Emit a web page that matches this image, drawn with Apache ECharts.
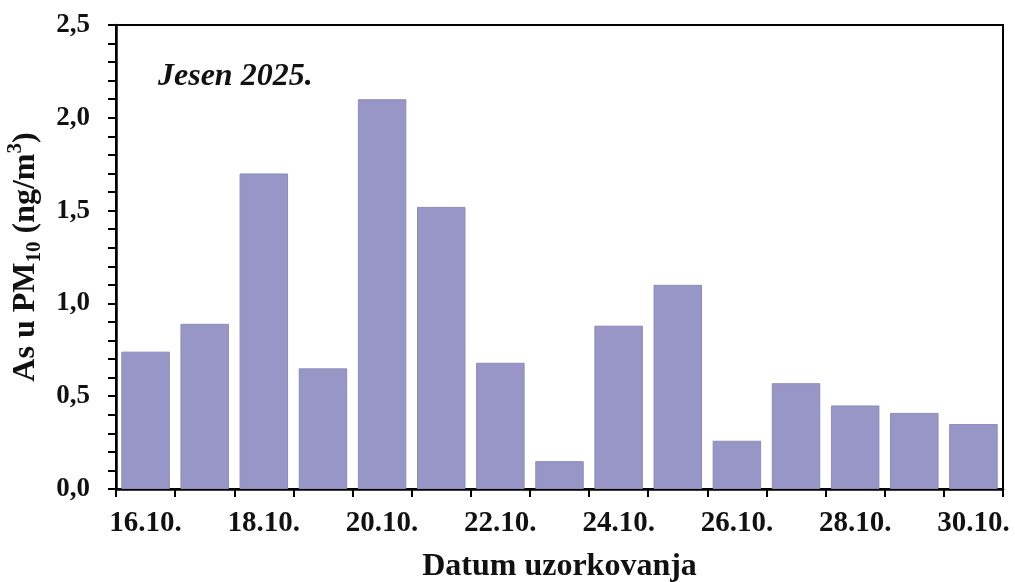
<!DOCTYPE html>
<html>
<head>
<meta charset="utf-8">
<script src="https://cdn.jsdelivr.net/npm/echarts@6/dist/echarts.min.js"></script>
<style>html,body{margin:0;padding:0;background:#fff}#c{width:1015px;height:582px}</style>
</head>
<body>
<div id="c"></div>
<script>
const categories = ['16.10.','17.10.','18.10.','19.10.','20.10.','21.10.','22.10.','23.10.','24.10.','25.10.','26.10.','27.10.','28.10.','29.10.','30.10.'];
const asValues = [0.74, 0.89, 1.70, 0.65, 2.10, 1.52, 0.68, 0.15, 0.88, 1.10, 0.26, 0.57, 0.45, 0.41, 0.35];
const yTicks = { min: 0, max: 2.5, interval: 0.5 };

const serif = '"Liberation Serif", "DejaVu Serif", serif';
const chart = echarts.init(document.getElementById('c'));
chart.setOption({
  animation: false,
  backgroundColor: '#fff',
  title: {
    text: 'Jesen 2025.',
    left: 153, top: 56,
    textStyle: { fontFamily: serif, fontWeight: 'bold', fontStyle: 'italic', fontSize: 32, color: '#111' }
  },
  grid: { left: 116, right: 12, top: 25, bottom: 93, outerBoundsMode: 'none', containLabel: false, show: true, borderColor: '#000', borderWidth: 2, backgroundColor: 'transparent' },
  xAxis: {
    type: 'category',
    data: categories,
    boundaryGap: true,
    name: 'Datum uzorkovanja',
    nameLocation: 'middle',
    nameGap: 62,
    nameTextStyle: { fontFamily: serif, fontWeight: 'bold', fontSize: 32, color: '#111' },
    axisLine: { lineStyle: { color: '#000', width: 2.5 } },
    axisTick: { show: true, interval: 0, length: 8, inside: false, lineStyle: { color: '#000', width: 2 } },
    axisLabel: { interval: 1, margin: 20, fontFamily: serif, fontWeight: 'bold', fontSize: 29, color: '#111' },
    splitLine: { show: false }
  },
  yAxis: {
    type: 'value',
    min: yTicks.min, max: yTicks.max, interval: yTicks.interval,
    name: '{a|As u PM}{s|10}{a| (ng/m}{p|3}{a|)}',
    nameLocation: 'middle',
    nameGap: 69,
    nameRotate: 90,
    nameTextStyle: {
      fontFamily: serif, fontWeight: 'bold', fontSize: 32, color: '#111',
      rich: {
        a: { fontFamily: serif, fontWeight: 'bold', fontSize: 32, color: '#111', lineHeight: 40, verticalAlign: 'middle' },
        s: { fontFamily: serif, fontWeight: 'bold', fontSize: 21, color: '#111', lineHeight: 40, verticalAlign: 'bottom' },
        p: { fontFamily: serif, fontWeight: 'bold', fontSize: 21, color: '#111', lineHeight: 40, verticalAlign: 'top' }
      }
    },
    axisLine: { show: true, lineStyle: { color: '#000', width: 2.5 } },
    axisTick: { show: true, length: 8, inside: false, lineStyle: { color: '#000', width: 2 } },
    minorTick: { show: true, splitNumber: 5, length: 8, lineStyle: { color: '#000', width: 2 } },
    axisLabel: {
      margin: 26, fontFamily: serif, fontWeight: 'bold', fontSize: 27, color: '#111',
      formatter: v => v.toFixed(1).replace('.', ',')
    },
    splitLine: { show: false },
    minorSplitLine: { show: false }
  },
  series: [{
    type: 'bar',
    data: asValues,
    barCategoryGap: '18%',
    itemStyle: { color: '#9896c6', borderColor: '#8d8bbb', borderWidth: 1 }
  }]
});
</script>
</body>
</html>
